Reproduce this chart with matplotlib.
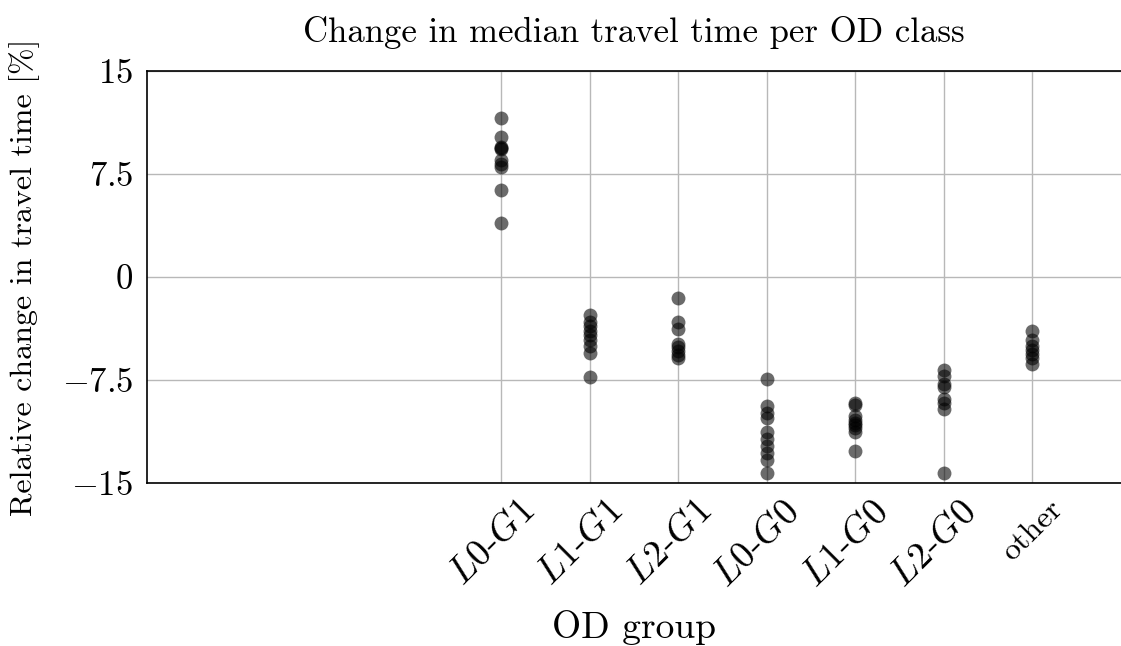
import matplotlib
matplotlib.use("Agg")
import matplotlib.pyplot as plt
from matplotlib.transforms import ScaledTranslation

plt.rcParams['font.family'] = 'serif'
plt.rcParams['font.serif'] = ['cmr10']
plt.rcParams['mathtext.fontset'] = 'cm'
plt.rcParams['axes.unicode_minus'] = False

categories = ['L0-G1', 'L1-G1', 'L2-G1', 'L0-G0', 'L1-G0', 'L2-G0', 'other']
cat_labels = [r'$\mathit{L0}$-$\mathit{G1}$', r'$\mathit{L1}$-$\mathit{G1}$', r'$\mathit{L2}$-$\mathit{G1}$',
              r'$\mathit{L0}$-$\mathit{G0}$', r'$\mathit{L1}$-$\mathit{G0}$', r'$\mathit{L2}$-$\mathit{G0}$', 'other']

values = {
    'L0-G1': [11.6, 10.2, 9.5, 9.4, 9.3, 8.5, 8.2, 8.0, 6.3, 3.9],
    'L1-G1': [-2.8, -3.3, -3.6, -3.9, -4.2, -4.6, -5.0, -5.5, -7.3],
    'L2-G1': [-1.5, -3.3, -3.8, -4.9, -5.1, -5.4, -5.7, -5.9],
    'L0-G0': [-7.4, -9.4, -9.9, -10.3, -11.3, -11.8, -12.3, -12.8, -13.3, -14.3],
    'L1-G0': [-9.2, -9.3, -10.1, -10.4, -10.6, -10.8, -11.0, -11.3, -12.7],
    'L2-G0': [-6.8, -7.2, -7.8, -8.0, -8.9, -9.2, -9.6, -14.3],
    'other': [-3.9, -4.6, -5.0, -5.3, -5.6, -5.9, -6.3],
}

yticks = [-15, -7.5, 0, 7.5, 15]
ytick_labels = [r'$-15$', r'$-7.5$', r'$0$', r'$7.5$', r'$15$']

W, H = 1121, 646
fig = plt.figure(figsize=(W / 100, H / 100), dpi=100)
left, right, top, bottom = 147, 1121, 71, 483
ax = fig.add_axes([left / W, 1 - bottom / H, (right - left) / W, (bottom - top) / H])

for i, c in enumerate(categories):
    ys = values[c]
    ax.scatter([i] * len(ys), ys, s=100, color='black', alpha=0.58, linewidths=0, zorder=3)

ax.set_xlim(-4, 7)
ax.set_ylim(-15, 15)
ax.set_xticks(range(len(categories)))
ax.set_yticks(yticks)
ax.set_yticklabels(ytick_labels, fontsize=25)
ax.tick_params(axis='y', length=0, pad=10)
ax.tick_params(axis='x', length=0, pad=0)
ax.set_xticklabels(cat_labels, rotation=45, ha='right', va='top',
                   rotation_mode='anchor', fontsize=27)
ax.get_xticklabels()[-1].set_fontsize(23)
off = ScaledTranslation(16 / 100, -12 / 100, fig.dpi_scale_trans)
for lab in ax.get_xticklabels():
    lab.set_transform(lab.get_transform() + off)
ax.grid(True, color='#b8b8b8', linewidth=1.0, zorder=0)
ax.set_axisbelow(True)
ax.spines['right'].set_visible(False)
for s in ['left', 'top', 'bottom']:
    ax.spines[s].set_linewidth(1.2)

ax.set_title('Change in median travel time per OD class', fontsize=25, pad=21)
ax.set_ylabel('Relative change in travel time [%]', fontsize=23)
ax.yaxis.set_label_coords((25 - left) / (right - left), 0.5)
ax.set_xlabel('OD group', fontsize=27)
ax.xaxis.set_label_coords((634 - left) / (right - left), (bottom - 628) / (bottom - top))
ax.xaxis.label.set_va('center')
ax.yaxis.label.set_va('center')

fig.savefig('out.png', dpi=100)
